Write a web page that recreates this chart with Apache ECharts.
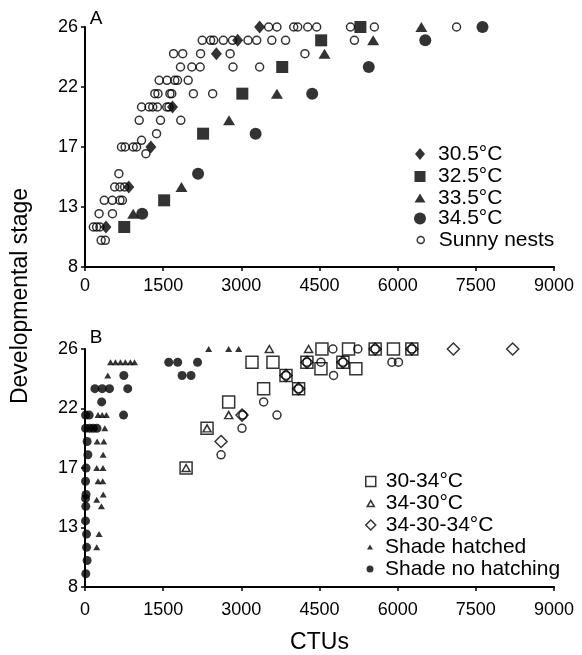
<!DOCTYPE html>
<html><head><meta charset="utf-8">
<script src="https://cdn.jsdelivr.net/npm/echarts@6/dist/echarts.min.js"></script>
<style>html,body{margin:0;padding:0;background:#fff}#c{width:582px;height:655px}</style>
</head><body><div id="c"></div>
<script>
// ---- axis ticks ----
const xTickValues = [0, 1500, 3000, 4500, 6000, 7500, 9000];
const xTickLabels = ['0', '1500', '3000', '4500', '6000', '7500', '9000'];
const yTickValues = [8, 12.5, 17, 21.5, 26];
const yTickLabels = ['8', '13', '17', '22', '26'];

// ---- Panel A data: [CTUs, stage] ----
const a305 = [[402,11],[840,14],[1264,17],[1679,20],[2521,24],[2930,25],[3351,26]];
const a325 = [[753,11],[1519,13],[2266,18],[3019,21],[3785,23],[4532,25],[5285,26]];
const a335 = [[925,12],[1851,14],[2764,19],[3683,21],[4596,24],[5530,25],[6455,26]];
const a345 = [[1098,12],[2170,15],[3274,18],[4360,21],[5445,23],[6530,25],[7628,26]];
const aSunny = [
  [3524,26],[3683,26],[4005,26],[4082,26],[4274,26],[4446,26],[5095,26],[5553,26],[7130,26],
  [2250,25],[2410,25],[2470,25],[2655,25],[2830,25],[3128,25],[3295,25],[3585,25],[3849,25],[5170,25],
  [1700,24],[1875,24],[2218,24],[2785,24],[4220,24],
  [1832,23],[2050,23],[2210,23],[2840,23],[3351,23],
  [1423,22],[1575,22],[1723,22],[1775,22],[1980,22],
  [1340,21],[1400,21],[1630,21],[1665,21],[2080,21],[2450,21],
  [1085,20],[1230,20],[1300,20],[1390,20],[1570,20],[1610,20],
  [1040,19],[1449,19],[1838,19],
  [1373,18],[1085,17.5],
  [700,17],[770,17],[925,17],[990,17],
  [1168,16.5],
  [650,15],
  [570,14],[670,14],[760,14],
  [370,13],[525,13],[670,13],[718,13],
  [270,12],[527,12],
  [160,11],[223,11],[287,11],
  [310,10],[390,10]
];

// ---- Panel B data: [CTUs, stage] ----
const b3034 = [[1940,17],[2342,20],[2757,22],[3205,25],[3428,23],[3607,25],[3857,24],[4099,23],[4259,25],
  [4528,24.5],[4547,26],[4949,25],[5057,26],[5198,24.5],[5568,26],[5919,26],[6272,26]];
const b3430 = [[1940,17],[2342,20],[2757,21],[3537,26],[4290,26]];
const b343034 = [[2611,19],[3013,21],[3857,24],[4099,23],[4259,25],[4949,25],[5568,26],[6272,26],[7069,26],[8207,26]];
const bCircles = [[2611,18],[3013,20],[3030,21],[3428,22],[3684,21],[3857,24],[4099,23],[4259,25],[4528,25],
  [4770,24],[4757,26],[4949,25],[5236,26],[5568,26],[5890,25],[6015,25],[6272,26]];
const bShadeHatched = [[490,25],[585,25],[680,25],[775,25],[870,25],[950,25],[437,24],[2373,26],[2757,26],[2948,26],
  [250,21],[330,21],[410,21],[380,20],[233,19],[361,19],[348,18],[225,17],[345,17],[250,16],[340,16],
  [350,15],[225,14.6],[315,14.1],[270,12],[225,11]];
const bShadeNo = [[1607,25],[1779,25],[2160,25],[745,24],[1863,24],[2035,24],[190,23],[330,23],[470,23],[820,23],
  [320,22],[10,21],[80,21],[740,21],[10,20],[90,20],[160,20],[230,20],[40,19],[55,18],[20,17],[10,16],
  [20,15],[10,14.7],[15,14.1],[10,13],[30,12],[30,11],[40,10],[15,9]];

const FONT = '"Liberation Sans", Arial, Helvetica, sans-serif';
const BLACK = '#000';
const CLEAR = 'rgba(0,0,0,0)';
const filled = {color: BLACK, borderWidth: 0};
const open = {color: CLEAR, borderColor: BLACK, borderWidth: 1.5};

function xAxisFor(gi, name) {
  return {
    type: 'value', gridIndex: gi, min: xTickValues[0], max: xTickValues[xTickValues.length-1],
    interval: xTickValues[1]-xTickValues[0],
    axisLine: {onZero: false, lineStyle: {color: BLACK, width: 2}},
    axisTick: {length: 4, lineStyle: {color: BLACK, width: 1.5}},
    splitLine: {show: false},
    axisLabel: {color: BLACK, fontSize: 18, fontFamily: FONT, margin: gi === 0 ? 10 : 14,
      formatter: v => xTickLabels[xTickValues.indexOf(v)] ?? ''},
    name: name, nameLocation: 'middle', nameGap: 44,
    nameTextStyle: {color: BLACK, fontSize: 23, fontFamily: FONT}
  };
}
function yAxisFor(gi) {
  return {
    type: 'value', gridIndex: gi, min: yTickValues[0], max: yTickValues[yTickValues.length-1],
    interval: yTickValues[1]-yTickValues[0],
    axisLine: {onZero: false, lineStyle: {color: BLACK, width: 2}},
    axisTick: {length: 4, lineStyle: {color: BLACK, width: 1.5}},
    splitLine: {show: false},
    axisLabel: {color: BLACK, fontSize: 18, fontFamily: FONT, margin: 7,
      formatter: v => yTickLabels[Math.round((v - yTickValues[0]) / (yTickValues[1]-yTickValues[0]))]}
  };
}
function sc(name, gi, data, symbol, size, style, z) {
  return {type: 'scatter', name, xAxisIndex: gi, yAxisIndex: gi, data, symbol, symbolSize: size,
    itemStyle: style, z: z || 2, emphasis: {disabled: true}, silent: true};
}

const series = [
  sc('Sunny nests', 0, aSunny, 'circle', 8, open, 2),
  sc('30.5°C', 0, a305, 'diamond', [11, 13], filled, 3),
  sc('32.5°C', 0, a325, 'rect', 12, filled, 3),
  sc('33.5°C', 0, a335, 'triangle', [12, 10], filled, 3),
  sc('34.5°C', 0, a345, 'circle', 12, filled, 3),
  sc('30-34°C', 1, b3034, 'rect', 12, open, 3),
  sc('34-30°C', 1, b3430, 'triangle', [8, 7], open, 3),
  sc('34-30-34°C', 1, b343034, 'diamond', [12, 12], open, 3),
  sc('circlesB', 1, bCircles, 'circle', 8, open, 3),
  sc('Shade hatched', 1, bShadeHatched, 'triangle', [7, 6], filled, 3),
  sc('Shade no hatching', 1, bShadeNo, 'circle', 9, filled, 3)
];

// legend layout: [name, icon, size(w,h), style, symbol center x, row center y, text start x]
const legendLayout = [
  ['30.5°C', 'diamond', [10, 12], filled, 420, 154, 438],
  ['32.5°C', 'rect', [11, 11], filled, 420, 176.5, 438],
  ['33.5°C', 'triangle', [11, 9], filled, 420, 198, 438],
  ['34.5°C', 'circle', [12, 12], filled, 420, 218.5, 438],
  ['Sunny nests', 'circle', [7, 7], open, 420, 240, 438],
  ['30-34°C', 'rect', [10, 10], open, 370, 481.5, 385],
  ['34-30°C', 'triangle', [7, 6], open, 370, 503.5, 385],
  ['34-30-34°C', 'diamond', [10, 10], open, 370, 525, 385],
  ['Shade hatched', 'triangle', [6, 5], filled, 370, 547, 385],
  ['Shade no hatching', 'circle', [7, 7], filled, 370, 569, 385]
];
const LH = 22;
const legends = legendLayout.map(([name, icon, sz, style, cx, cy, tx]) => ({
  show: true, selectedMode: false, padding: 0, orient: 'vertical',
  left: cx - sz[0] / 2, top: cy - LH / 2,
  itemWidth: sz[0], itemHeight: sz[1], symbolKeepAspect: false,
  data: [{name, icon, itemStyle: Object.assign({}, style)}],
  textStyle: {color: BLACK, fontSize: 21, fontFamily: FONT, lineHeight: LH,
    padding: [0, 0, 0, Math.max(0, tx - (cx + sz[0] / 2) - 5)]}
}));

const option = {
  animation: false,
  backgroundColor: '#fff',
  grid: [
    {left: 85, width: 469, top: 27, height: 240},
    {left: 85, width: 469, top: 349, height: 239}
  ],
  xAxis: [xAxisFor(0, ''), xAxisFor(1, 'CTUs')],
  yAxis: [yAxisFor(0), yAxisFor(1)],
  legend: legends,
  graphic: [
    {type: 'text', x: 96, y: 19, style: {text: 'A', fontSize: 19, fontFamily: FONT, fill: BLACK, align: 'center', verticalAlign: 'middle'}},
    {type: 'text', x: 96, y: 338, style: {text: 'B', fontSize: 19, fontFamily: FONT, fill: BLACK, align: 'center', verticalAlign: 'middle'}},
    {type: 'text', x: 21, y: 296, rotation: Math.PI / 2, style: {text: 'Developmental stage', fontSize: 23, fontFamily: FONT, fill: BLACK, align: 'center', verticalAlign: 'middle'}}
  ],
  series
};
const chart = echarts.init(document.getElementById('c'), null, {renderer: 'canvas'});
chart.setOption(option);
</script>
</body></html>
